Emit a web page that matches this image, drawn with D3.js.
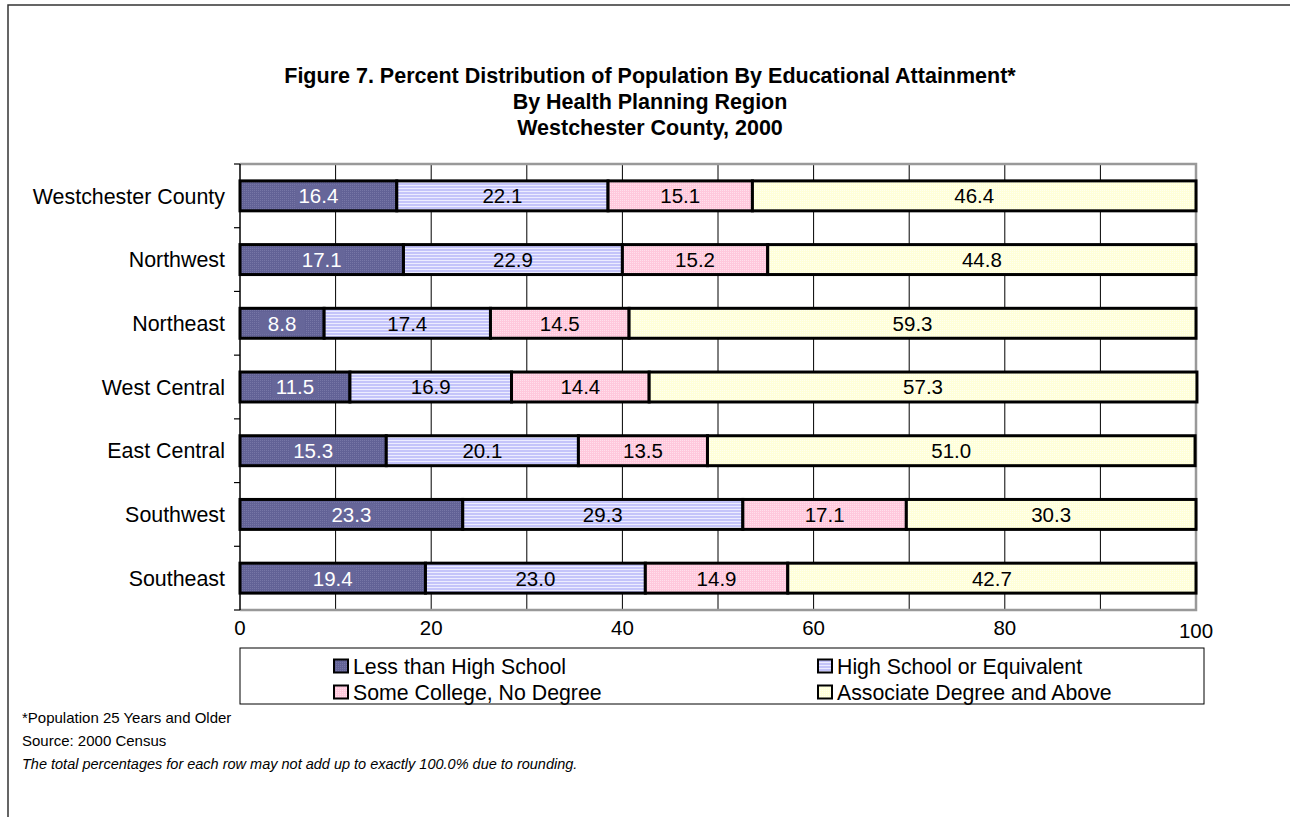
<!DOCTYPE html>
<html lang="en">
<head>
<meta charset="UTF-8">
<title>Figure 7</title>
<script src="https://d3js.org/d3.v7.min.js"></script>
<style>
  body { margin: 0; background: #fff; }
  svg { font-family: "Liberation Sans", Arial, sans-serif; }
</style>
</head>
<body>
<svg id="chart"></svg>
<script>
const regions = ["Westchester County", "Northwest", "Northeast", "West Central", "East Central", "Southwest", "Southeast"];
const seriesNames = ["Less than High School", "High School or Equivalent", "Some College, No Degree", "Associate Degree and Above"];
const lessThanHS = [16.4, 17.1, 8.8, 11.5, 15.3, 23.3, 19.4];
const highSchool = [22.1, 22.9, 17.4, 16.9, 20.1, 29.3, 23.0];
const someCollege = [15.1, 15.2, 14.5, 14.4, 13.5, 17.1, 14.9];
const associatePlus = [46.4, 44.8, 59.3, 57.3, 51.0, 30.3, 42.7];
const xTicks = [0, 20, 40, 60, 80, 100];
const titleLines = ["Figure 7. Percent Distribution of Population By Educational Attainment*", "By Health Planning Region", "Westchester County, 2000"];
const notes = ["*Population 25 Years and Older", "Source: 2000 Census", "The total percentages for each row may not add up to exactly 100.0% due to rounding."];

const W = 1290, H = 817;
const svg = d3.select("#chart").attr("width", W).attr("height", H);

// patterned fills, roughly like the old spreadsheet textures
const defs = svg.append("defs");
function dotPattern(id, bg, dot) {
  const p = defs.append("pattern").attr("id", id).attr("patternUnits", "userSpaceOnUse").attr("width", 2).attr("height", 2);
  p.append("rect").attr("width", 2).attr("height", 2).attr("fill", bg);
  p.append("rect").attr("width", 1).attr("height", 1).attr("fill", dot);
}
dotPattern("p0", "#626296", "#7676a6");
const p1 = defs.append("pattern").attr("id", "p1").attr("patternUnits", "userSpaceOnUse").attr("width", 3).attr("height", 3);
p1.append("rect").attr("width", 3).attr("height", 3).attr("fill", "#c4c4fa");
p1.append("rect").attr("y", 2).attr("width", 3).attr("height", 1).attr("fill", "#ececff");
dotPattern("p2", "#ffc8dc", "#ffe0ec");
dotPattern("p3", "#ffffd8", "#fffff0");
const fills = ["url(#p0)", "url(#p1)", "url(#p2)", "url(#p3)"];
const solid = ["#666699", "#ccccff", "#ffccdd", "#ffffdd"];
const textColor = ["#fff", "#000", "#000", "#000"];

// outer frame
svg.append("path").attr("d", `M8,${H} V5 H${W}`).attr("fill", "none").attr("stroke", "#333").attr("stroke-width", 1.5);

// title
svg.append("g").selectAll("text").data(titleLines).join("text")
  .attr("x", 650).attr("y", (d, i) => 83 + i * 26)
  .attr("text-anchor", "middle").attr("font-size", 21.5).attr("font-weight", "bold")
  .text(d => d);

const x = d3.scaleLinear().domain([0, 100]).range([240, 1196]);
const y = d3.scaleBand().domain(regions).range([164, 610]).paddingInner(0.53).paddingOuter(0.265);

// gridlines every 10
svg.append("g").selectAll("line").data(d3.range(10, 100, 10)).join("line")
  .attr("x1", d => x(d)).attr("x2", d => x(d)).attr("y1", 164).attr("y2", 610)
  .attr("stroke", "#000").attr("stroke-width", 1);

// plot border (gray top/right/bottom)
svg.append("path").attr("d", `M${x(0)},164 H${x(100)} V610 H${x(0)}`)
  .attr("fill", "none").attr("stroke", "#999").attr("stroke-width", 2.5);

const rows = regions.map((r, i) => ({ region: r, s0: lessThanHS[i], s1: highSchool[i], s2: someCollege[i], s3: associatePlus[i] }));
const keys = ["s0", "s1", "s2", "s3"];
const stacked = d3.stack().keys(keys)(rows);

const layers = svg.append("g").selectAll("g").data(stacked).join("g");
layers.selectAll("rect").data(d => d).join("rect")
  .attr("x", d => x(d[0])).attr("width", d => x(d[1]) - x(d[0]))
  .attr("y", d => y(d.data.region)).attr("height", y.bandwidth())
  .attr("fill", (d, i, n) => fills[d3.select(n[i].parentNode).datum().index])
  .attr("stroke", "#000").attr("stroke-width", 3);

// value labels
stacked.forEach((layer, k) => {
  const g = svg.append("g");
  layer.forEach(d => {
    const cx = (x(d[0]) + x(d[1])) / 2, cy = y(d.data.region) + y.bandwidth() / 2;
    const label = (d[1] - d[0]).toFixed(1);
    if (k === 0) {
      g.append("rect").attr("x", cx - 23).attr("y", cy - 11).attr("width", 46).attr("height", 22).attr("fill", solid[0]);
    }
    g.append("text").attr("x", cx).attr("y", cy).attr("dy", "0.36em")
      .attr("text-anchor", "middle").attr("font-size", 20.5).attr("fill", textColor[k])
      .text(label);
  });
});

// y axis
const yAxis = svg.append("g").attr("transform", `translate(${x(0)},0)`);
yAxis.append("line").attr("x1", 0).attr("x2", 0).attr("y1", 164).attr("y2", 610).attr("stroke", "#000").attr("stroke-width", 1.5);
const bounds = d3.range(regions.length + 1).map(i => 164 + i * y.step());
yAxis.selectAll(".tk").data(bounds).join("line").attr("class", "tk")
  .attr("x1", -6).attr("x2", 0).attr("y1", d => d).attr("y2", d => d).attr("stroke", "#000").attr("stroke-width", 1.2);
yAxis.selectAll("text").data(regions).join("text")
  .attr("x", -15).attr("y", d => y(d) + y.bandwidth() / 2).attr("dy", "0.36em")
  .attr("text-anchor", "end").attr("font-size", 21.4).text(d => d);

// x axis labels
svg.append("g").selectAll("text").data(xTicks).join("text")
  .attr("x", d => x(d)).attr("y", d => d === 100 ? 638 : 635)
  .attr("text-anchor", "middle").attr("font-size", 20.5).text(d => d);

// legend
const leg = svg.append("g");
leg.append("rect").attr("x", 240).attr("y", 648).attr("width", 964).attr("height", 56)
  .attr("fill", "#fff").attr("stroke", "#000").attr("stroke-width", 1);
const legPos = [[334, 666], [818, 666], [334, 692], [818, 692]];
seriesNames.forEach((name, i) => {
  const [lx, ly] = legPos[i];
  leg.append("rect").attr("x", lx).attr("y", ly - 6.5).attr("width", 14).attr("height", 13)
    .attr("fill", fills[i]).attr("stroke", "#000").attr("stroke-width", 2);
  leg.append("text").attr("x", lx + 19).attr("y", ly).attr("dy", "0.36em").attr("font-size", 21.3).text(name);
});

// footnotes
svg.append("g").selectAll("text").data(notes).join("text")
  .attr("x", 22).attr("y", (d, i) => 718 + i * 23).attr("dy", "0.35em")
  .attr("font-size", (d, i) => i === 2 ? 14.5 : 15).attr("font-style", (d, i) => i === 2 ? "italic" : "normal")
  .text(d => d);
</script>
</body>
</html>
